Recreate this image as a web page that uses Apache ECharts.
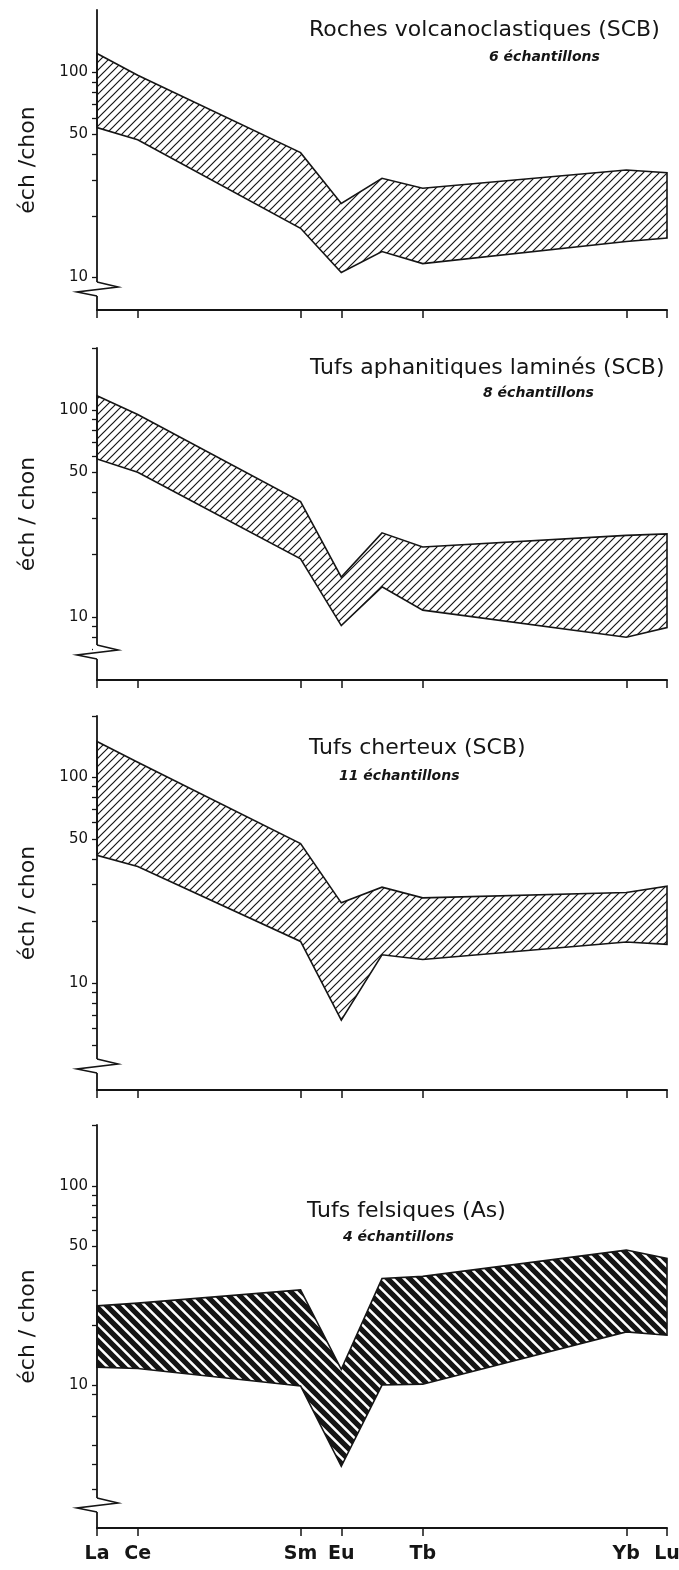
<!DOCTYPE html>
<html>
<head>
<meta charset="utf-8">
<script src="https://cdn.jsdelivr.net/npm/echarts@6/dist/echarts.min.js"></script>
<style>
  html, body { margin: 0; padding: 0; background: #fff; }
  #ree { width: 679px; height: 1570px; }
</style>
</head>
<body>
<div id="ree"></div>
<script>
// elements plotted on the band outlines (x = atomic number)
var elementNames = ['La', 'Ce', 'Sm', 'Eu', 'Gd', 'Tb', 'Yb', 'Lu'];
var atomicNumbers = [57, 58, 62, 63, 64, 65, 70, 71];
// ticks / labels of the x axis
var tickNames = ['La', 'Ce', 'Sm', 'Eu', 'Tb', 'Yb', 'Lu'];
var tickNumbers = [57, 58, 62, 63, 65, 70, 71];
// y labels (ech/chon)
var yLabelValues = [10, 50, 100];

// Roches volcanoclastiques (SCB)
var volcanoUpper = [124, 97, 40.7, 23.0, 30.5, 27.3, 33.5, 32.5];
var volcanoLower = [53.9, 47, 17.4, 10.6, 13.4, 11.7, 15.0, 15.6];
// Tufs aphanitiques laminés (SCB)
var laminatedUpper = [117, 95, 36.1, 15.6, 25.5, 21.8, 24.8, 25.2];
var laminatedLower = [58, 50, 19.1, 9.1, 14.0, 10.8, 8.0, 8.9];
// Tufs cherteux (SCB)
var chertUpper = [149, 118, 47.5, 24.5, 29.2, 25.9, 27.5, 29.5];
var chertLower = [41.7, 36.8, 15.9, 6.6, 13.7, 13.0, 15.8, 15.4];
// Tufs felsiques (As)
var felsicUpper = [25.0, 25.8, 30.1, 12.0, 34.3, 35.2, 47.7, 43.3];
var felsicLower = [12.3, 12.1, 9.9, 3.9, 10.0, 10.1, 18.5, 17.8];

// minor ticks on each y axis
var ticksVolcano = [10, 20, 30, 40, 50, 60, 70, 80, 90, 100];
var ticksLaminated = [7, 8, 9, 10, 20, 30, 40, 50, 60, 70, 80, 90, 100];
var ticksChert = [5, 6, 7, 8, 9, 10, 20, 30, 40, 50, 60, 70, 80, 90, 100];
var ticksFelsic = [3, 4, 5, 7, 9, 10, 20, 30, 40, 50, 60, 70, 80, 90, 100];

var INK = '#151515';
var FONT = 'DejaVu Sans';

// diagonal hatch tile; lines run past the tile so the seams close up
function makeHatch(size, lineWidth, dir) {
    var c = document.createElement('canvas');
    c.width = size;
    c.height = size;
    var ctx = c.getContext('2d');
    ctx.strokeStyle = INK;
    ctx.lineWidth = lineWidth;
    ctx.beginPath();
    for (var k = -1; k <= 1; k++) {
        if (dir === 'up') {
            ctx.moveTo(k * size - size, 2 * size);
            ctx.lineTo(k * size + 2 * size, -size);
        } else {
            ctx.moveTo(k * size - size, -size);
            ctx.lineTo(k * size + 2 * size, 2 * size);
        }
    }
    ctx.stroke();
    return { image: c, repeat: 'repeat' };
}

var hatchLight = makeHatch(8, 1.2, 'up');
var hatchDark = makeHatch(11, 5.2, 'down');

var panels = [{
    title: 'Roches volcanoclastiques (SCB)', sub: '6 échantillons', yName: 'éch /chon',
    upper: volcanoUpper, lower: volcanoLower, ticks: ticksVolcano,
    top: 10, bottom: 310, min: 6.95, max: 202, breakGap: 21,
    titleLeft: 309, titleY: 30, subLeft: 489, subY: 57, fill: hatchLight, topTick: false
}, {
    title: 'Tufs aphanitiques laminés (SCB)', sub: '8 échantillons', yName: 'éch / chon',
    upper: laminatedUpper, lower: laminatedLower, ticks: ticksLaminated,
    top: 348, bottom: 680, min: 4.97, max: 199, breakGap: 28,
    titleLeft: 310, titleY: 368, subLeft: 483, subY: 393, fill: hatchLight, topTick: true
}, {
    title: 'Tufs cherteux (SCB)', sub: '11 échantillons', yName: 'éch / chon',
    upper: chertUpper, lower: chertLower, ticks: ticksChert,
    top: 716, bottom: 1090, min: 3.02, max: 198, breakGap: 24,
    titleLeft: 309, titleY: 748, subLeft: 339, subY: 776, fill: hatchLight, topTick: true
}, {
    title: 'Tufs felsiques (As)', sub: '4 échantillons', yName: 'éch / chon',
    upper: felsicUpper, lower: felsicLower, ticks: ticksFelsic,
    top: 1125, bottom: 1528, min: 1.91, max: 203, breakGap: 23,
    titleLeft: 307, titleY: 1211, subLeft: 343, subY: 1237, fill: hatchDark, topTick: true
}];

var GRID_LEFT = 97;
var GRID_RIGHT = 12;

function lg(v) { return Math.log10(v); }

function bandRenderer(p) {
    return function (params, api) {
        if (params.dataIndex !== 0) return;
        var upperPts = atomicNumbers.map(function (z, i) { return api.coord([z, lg(p.upper[i])]); });
        var lowerPts = atomicNumbers.map(function (z, i) { return api.coord([z, lg(p.lower[i])]); }).reverse();
        return {
            type: 'polygon',
            shape: { points: upperPts.concat(lowerPts) },
            style: { fill: p.fill, stroke: INK, lineWidth: 1.6, lineJoin: 'miter' }
        };
    };
}

var grids = [], xAxes = [], yAxes = [], series = [], titles = [], graphics = [];

panels.forEach(function (p, i) {
    var last = i === panels.length - 1;
    grids.push({
        left: GRID_LEFT, right: GRID_RIGHT, top: p.top, height: p.bottom - p.top,
        containLabel: false, outerBoundsMode: 'none'
    });
    xAxes.push({
        gridIndex: i, type: 'value', min: 57, max: 71,
        splitLine: { show: false },
        axisLine: { onZero: false, lineStyle: { color: INK, width: 2 } },
        axisTick: { customValues: tickNumbers, length: 8, lineStyle: { color: INK, width: 1.5 } },
        axisLabel: {
            show: last, customValues: tickNumbers, margin: 17,
            fontFamily: FONT, fontSize: 19, fontWeight: 'bold', color: INK,
            formatter: function (v) { return tickNames[tickNumbers.indexOf(Math.round(v))] || ''; }
        }
    });
    var tickVals = p.ticks.map(lg);
    if (p.topTick) tickVals.push(lg(p.max));
    yAxes.push({
        gridIndex: i, type: 'value', min: lg(p.min), max: lg(p.max),
        name: p.yName, nameLocation: 'middle', nameGap: 58, nameRotate: 90,
        nameTextStyle: { fontFamily: FONT, fontSize: 22, color: INK },
        splitLine: { show: false },
        axisLine: { onZero: false, lineStyle: { color: INK, width: 1.8 } },
        axisTick: { customValues: tickVals, length: 5, lineStyle: { color: INK, width: 1.3 } },
        axisLabel: {
            customValues: yLabelValues.map(lg), margin: 9,
            fontFamily: FONT, fontSize: 15, color: INK,
            formatter: function (v) { return String(Math.round(Math.pow(10, v))); }
        }
    });
    series.push({
        type: 'custom', xAxisIndex: i, yAxisIndex: i, silent: true,
        data: atomicNumbers.map(function (z, k) { return [z, lg(p.lower[k]), lg(p.upper[k])]; }),
        encode: { x: 0, y: [1, 2] },
        renderItem: bandRenderer(p)
    });
    titles.push({
        text: p.title, left: p.titleLeft, top: p.titleY - 11, padding: 0,
        textStyle: { fontFamily: FONT, fontSize: 22, fontWeight: 'normal', color: INK, lineHeight: 22 }
    });
    titles.push({
        text: p.sub, left: p.subLeft, top: p.subY - 7, padding: 0,
        textStyle: { fontFamily: FONT, fontSize: 14, fontWeight: 'bold', fontStyle: 'italic', color: INK, lineHeight: 14 }
    });
    // broken axis sign
    var cy = p.bottom - p.breakGap;
    graphics.push({
        type: 'rect', z: 100,
        shape: { x: GRID_LEFT - 4, y: cy - 7, width: 8, height: 14 },
        style: { fill: '#fff' }
    });
    graphics.push({
        type: 'polyline', z: 101,
        shape: { points: [[GRID_LEFT, cy - 7], [GRID_LEFT + 21, cy - 2], [GRID_LEFT - 20, cy + 3], [GRID_LEFT, cy + 7]] },
        style: { stroke: INK, lineWidth: 1.6, fill: null }
    });
});

var chart = echarts.init(document.getElementById('ree'), null, { renderer: 'canvas' });
chart.setOption({
    backgroundColor: '#fff',
    animation: false,
    title: titles,
    grid: grids,
    xAxis: xAxes,
    yAxis: yAxes,
    series: series,
    graphic: graphics
});
</script>
</body>
</html>
